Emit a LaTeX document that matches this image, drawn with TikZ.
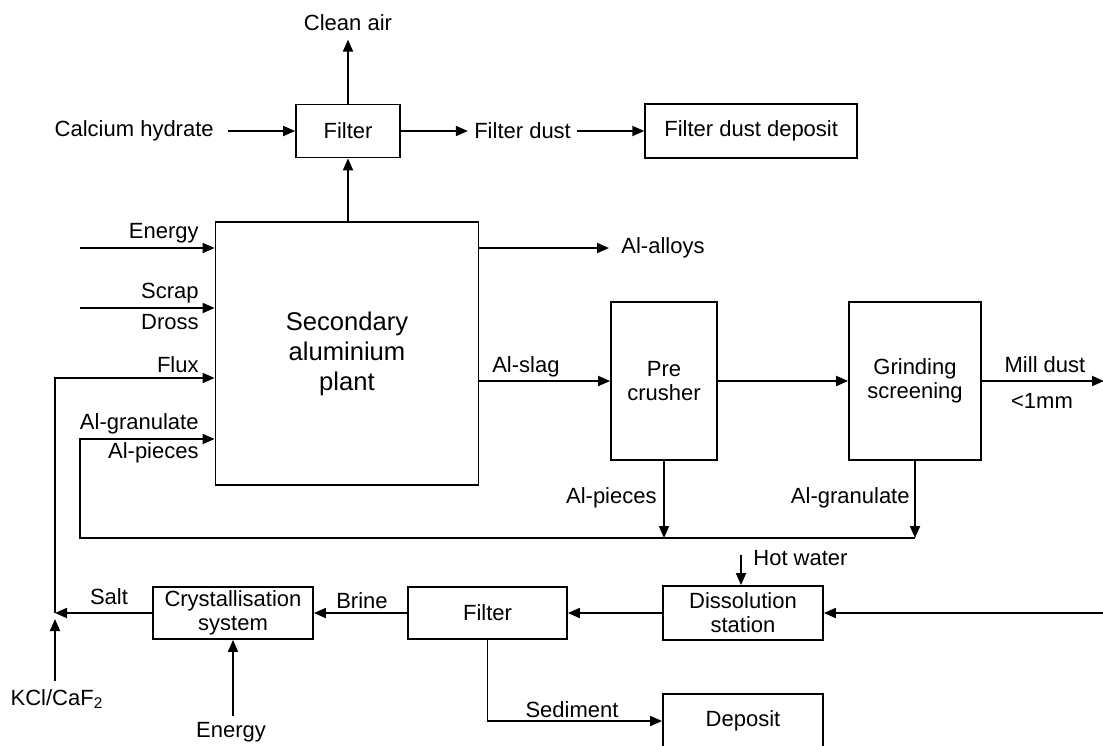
\documentclass[tikz,border=0pt]{standalone}
\usepackage{fontspec}
\setmainfont{Liberation Sans}
\usetikzlibrary{arrows.meta, positioning, calc}
\tikzset{
  unit/.style={draw, line width=0.9pt, align=center, inner sep=0pt},
  flow/.style={line width=0.9pt, -{Triangle[length=6pt,width=5pt]}},
  tag/.style={inner sep=0pt},
}

\begin{document}
\begin{tikzpicture}[x=0.5pt, y=-0.5pt, font=\fontsize{11}{12}\selectfont]
        \useasboundingbox (0,0) rectangle (1103,745);
        % process units
        \node[unit, minimum width=52pt, minimum height=26.5pt] (filt) at (348,131) {Filter};
        \node[unit, minimum width=131.5pt, minimum height=131.5pt, font=\fontsize{12.8}{15}\selectfont] (plant) at (347,353.5) {Secondary\\aluminium\\plant};
        \node[unit, minimum width=53pt, minimum height=79pt] (crush) at (664,381) {Pre\\crusher};
        \node[unit, minimum width=66pt, minimum height=79pt] (grind) at (915,381) {Grinding\\screening};
        \node[unit, minimum width=80pt, minimum height=27pt] (diss) at (743,613) {Dissolution\\station};
        \node[unit, minimum width=79.5pt, minimum height=26pt] (filt2) at (487.5,613) {Filter};
        \node[unit, minimum width=80pt, minimum height=26pt] (cryst) at (233,613) {Crystallisation\\system};
        \node[unit, minimum width=80pt, minimum height=27pt] (dep) at (743,721) {Deposit};
        % off gas
        \node[tag, inner xsep=7pt, left=33.5pt of filt] (calc) {Calcium hydrate};
        \node[tag, inner ysep=4pt, above=32pt of filt] (air) {Clean air};
        \node[tag, inner sep=3pt, right=33.5pt of filt] (fdust) {Filter dust};
        \node[unit, minimum width=106pt, minimum height=27pt, right=33.5pt of fdust] (fdd) {Filter dust deposit};
        \draw[flow] (calc) -- (filt);
        \draw[flow] (filt) -- (air);
        \draw[flow] (filt) -- (fdust);
        \draw[flow] (fdust) -- (fdd);
        \draw[flow] (plant.north -| filt.south) -- (filt.south);
        % plant inputs
        \foreach \txt/\yy in {Energy/238, Scrap/298, Dross/329, Flux/372, Al-granulate/429, Al-pieces/458}
          \node[tag, anchor=base east] (in-\txt) at (199,\yy) {\txt};
        \coordinate (energyIn) at (80,248);
        \coordinate (scrapIn) at (80,308);
        \foreach \c in {energyIn, scrapIn}
          \draw[flow] (\c) -- (\c -| plant.west);
        % plant outputs
        \node[tag, anchor=west] (alloys) at (621,248) {Al-alloys};
        \draw[flow] (plant.east |- alloys.west) -- ([xshift=-6pt]alloys.west);
        \draw[flow] (plant.east |- crush.west) -- (crush.west)
          node[tag, pos=0, anchor=south west, xshift=6pt, yshift=1.5pt] (slag) {Al-slag};
        \draw[flow] (crush.east) -- (grind.west);
        \coordinate (millOut) at (1104,381);
        \draw[flow] (grind.east) -- (millOut);
        \node[tag, anchor=base] (mill) at (1045,372) {Mill dust};
        \node[tag, anchor=base] (mm) at (1042,408) {\textless1mm};
        % metal return
        \coordinate (back) at (80,538);
        \coordinate (granIn) at (80,439);
        \draw[flow] (crush.south) -- (crush.south |- back);
        \draw[flow] (grind.south) -- (grind.south |- back);
        \draw[flow] (grind.south |- back) -- (back) -- (granIn) -- (granIn -| plant.west);
        \node[tag, anchor=base east] (pieces) at (657,503) {Al-pieces};
        \node[tag, anchor=base east] (gran) at (910,503) {Al-granulate};
        % salt slag treatment
        \coordinate (recycle) at (1104,613);
        \coordinate (hotIn) at (741,555);
        \draw[flow] (recycle) -- (diss.east);
        \draw[flow] (hotIn) -- (hotIn |- diss.north);
        \node[tag, anchor=base west] (hot) at (753,565) {Hot water};
        \draw[flow] (diss.west) -- (filt2.east);
        \draw[flow] (filt2.west) -- (cryst.east);
        \node[tag, anchor=base] (brine) at (362,608) {Brine};
        \draw[flow] (filt2.south) |- (dep.west);
        \node[tag, anchor=base] (sed) at (572,717) {Sediment};
        \node[tag, anchor=base] (energy2) at (231,737) {Energy};
        \draw[flow] ([yshift=2.5pt]cryst.south |- energy2.north) -- (cryst.south);
        % flux return
        \coordinate (fluxIn) at (55,378);
        \coordinate (saltJoin) at (55,613);
        \draw[flow] (saltJoin) -- (fluxIn) -- (fluxIn -| plant.west);
        \draw[flow] (cryst.west) -- (saltJoin);
        \node[tag, anchor=base] (salt) at (109,604) {Salt};
        \node[tag, anchor=base] (kcl) at (57,705) {KCl/CaF\textsubscript{2}};
        \draw[flow] ([yshift=4pt]kcl.north -| saltJoin) -- ([yshift=-3pt]saltJoin);
      \end{tikzpicture}
\end{document}
